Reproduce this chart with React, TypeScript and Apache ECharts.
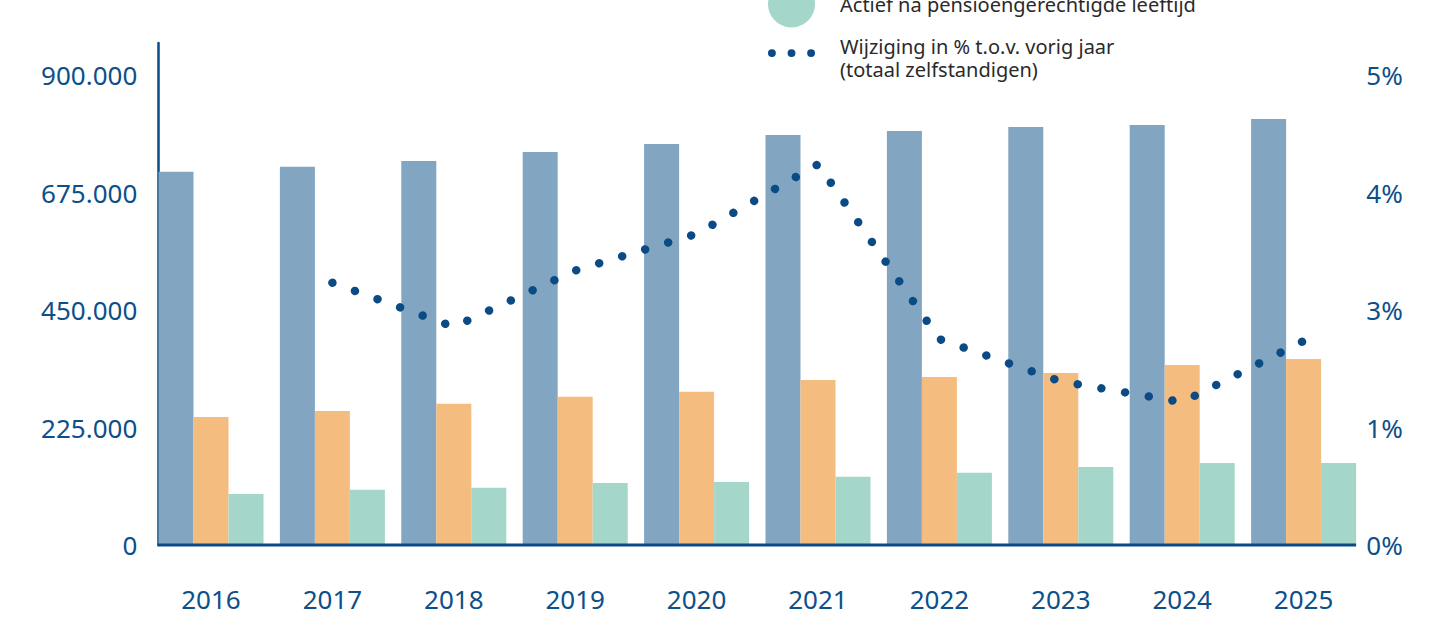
import React, { useEffect, useRef } from "react";
import * as echarts from "echarts";

const years = ["2016", "2017", "2018", "2019", "2020", "2021", "2022", "2023", "2024", "2025"];
const hoofdberoep = [714800, 724400, 735300, 752600, 767900, 785100, 792800, 800400, 804300, 815700];
const bijberoep = [245100, 256600, 270600, 284000, 293600, 316000, 321700, 329400, 344700, 356200];
const actiefNaPensioen = [97700, 105900, 109700, 118700, 120600, 130800, 138400, 149400, 157000, 157000];
const wijzigingPct: (number | null)[] = [null, 2.79, 2.32, 2.92, 3.31, 4.05, 2.19, 1.74, 1.52, 2.17];

const seriesNames = [
  "Zelfstandigen in hoofdberoep",
  "Zelfstandigen in bijberoep",
  "Actief na pensioengerechtigde leeftijd",
  "Wijziging in % t.o.v. vorig jaar\n(totaal zelfstandigen)",
];

const BLUE = "#82a6c1";
const ORANGE = "#f5bc80";
const TEAL = "#a4d6c9";
const DARK = "#0a4b85";
const LABEL = "#0d4f89";
const FONT = "'Noto Sans', sans-serif";

const SHIFT = 160;
const W = 1439;
const H = 617 + SHIFT;
const GRID_LEFT = 150.3;
const GRID_WIDTH = 1214;
const GRID_TOP = 43 + SHIFT;
const GRID_BOTTOM = H - (545 + SHIFT);
const CAT_GAP = 0.135;

const fmtThousands = (v: number) =>
  v === 0 ? "0" : String(Math.round(v)).replace(/\B(?=(\d{3})+(?!\d))/g, ".");

const legendText = { fontSize: 20, color: "#2a2a2a", lineHeight: 23, fontFamily: FONT };

export default function App() {
  const ref = useRef<HTMLDivElement>(null);
  useEffect(() => {
    document.body.style.margin = "0";
    if (!ref.current) return;
    const chart = echarts.init(ref.current, undefined, { renderer: "svg" });
    const band = GRID_WIDTH / years.length;
    const axisY = GRID_TOP + (H - GRID_TOP - GRID_BOTTOM);
    const x1 = GRID_LEFT + (band * CAT_GAP) / 2 - 1;
    const x2 = GRID_LEFT + GRID_WIDTH - (band * CAT_GAP) / 2;
    chart.setOption({
      animation: false,
      textStyle: { fontFamily: FONT },
      legend: [
        {
          orient: "vertical",
          left: 763,
          top: 36.5,
          itemWidth: 47,
          itemHeight: 47,
          itemGap: 2.5,
          icon: "circle",
          textStyle: { ...legendText, padding: [0, 0, 0, 20] },
          data: [seriesNames[0], seriesNames[1], seriesNames[2]],
        },
        {
          orient: "vertical",
          left: 763,
          top: 190,
          itemWidth: 47,
          itemHeight: 47,
          textStyle: { ...legendText, padding: [0, 0, 0, 20] },
          data: [
            {
              name: seriesNames[3],
              icon: "path://M4,0a4,4 0 1,1 0,8a4,4 0 1,1 0,-8zM24,0a4,4 0 1,1 0,8a4,4 0 1,1 0,-8zM44,0a4,4 0 1,1 0,8a4,4 0 1,1 0,-8zM0,18L0,18",
            },
          ],
        },
      ],
      grid: { left: GRID_LEFT, width: GRID_WIDTH, top: GRID_TOP, bottom: GRID_BOTTOM },
      xAxis: {
        type: "category",
        data: years,
        axisLine: { show: false },
        axisTick: { show: false },
        axisLabel: { fontSize: 26, color: LABEL, margin: 41, fontFamily: FONT },
      },
      yAxis: [
        {
          type: "value",
          min: 0,
          max: 900000 * 502 / 470,
          interval: 225000,
          offset: -8,
          axisLine: { show: true, lineStyle: { color: DARK, width: 2.5 } },
          axisTick: { show: false },
          splitLine: { show: false },
          axisLabel: {
            showMaxLabel: false,
            fontSize: 26,
            color: LABEL,
            margin: 21,
            fontFamily: FONT,
            formatter: (v: number) => fmtThousands(v),
          },
        },
        {
          type: "value",
          position: "right",
          min: 0,
          max: 5 * 502 / 470,
          interval: 1.25,
          axisLine: { show: false },
          axisTick: { show: false },
          splitLine: { show: false },
          axisLabel: {
            showMaxLabel: false,
            fontSize: 26,
            color: LABEL,
            margin: 2,
            fontFamily: FONT,
            formatter: (v: number) => Math.round(v) + "%",
          },
        },
      ],
      series: [
        {
          name: seriesNames[0],
          type: "bar",
          data: hoofdberoep,
          itemStyle: { color: BLUE },
          barGap: "0%",
          barCategoryGap: CAT_GAP * 100 + "%",
        },
        {
          name: seriesNames[1],
          type: "bar",
          data: bijberoep,
          itemStyle: { color: ORANGE },
        },
        {
          name: seriesNames[2],
          type: "bar",
          data: actiefNaPensioen,
          itemStyle: { color: TEAL },
        },
        {
          name: seriesNames[3],
          type: "line",
          yAxisIndex: 1,
          data: wijzigingPct,
          symbol: "none",
          itemStyle: { color: DARK },
          lineStyle: { color: DARK, width: 8.5, type: [0.01, 24.0], cap: "round" },
          z: 5,
        },
      ],
      graphic: [
        {
          type: "line",
          shape: { x1, y1: axisY, x2, y2: axisY },
          style: { stroke: DARK, lineWidth: 3 },
          z: 10,
        },
      ],
    });
    return () => chart.dispose();
  }, []);
  return (
    <div
      ref={ref}
      style={{ position: "absolute", left: 0, top: -SHIFT, width: W, height: H }}
    />
  );
}
